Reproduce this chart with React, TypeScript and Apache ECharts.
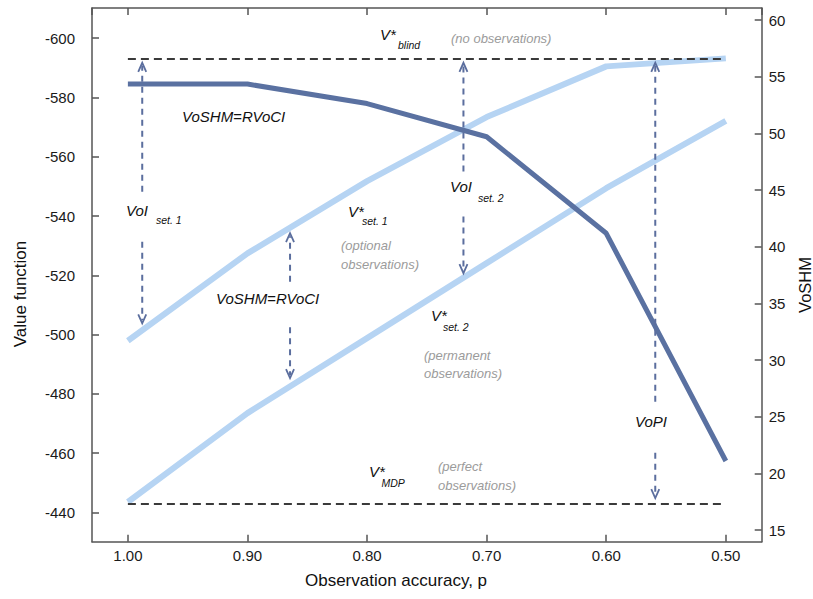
import React, { useEffect, useRef } from "react";
import * as echarts from "echarts";

// ---- data ----
const ACCURACY = [1.0, 0.9, 0.8, 0.7, 0.6, 0.5];
const V_SET1 = [-497.9, -527.4, -551.8, -573.4, -590.5, -593.2];
const V_SET2 = [-443.5, -473.5, -498.8, -524.1, -549.4, -572.1];
const VOSHM = [54.35, 54.35, 52.63, 49.7, 41.18, 21.09];
const V_BLIND = -593.0;
const V_MDP = -442.8;
// arrows: [accuracy, tail value, tip value] (left axis)
const ARROWS = [
  [0.988, -548.2, -591.7],
  [0.988, -531.3, -503.8],
  [0.7194, -555.0, -591.7],
  [0.7194, -539.8, -520.7],
  [0.8644, -517.8, -534.2],
  [0.8644, -502.5, -485.3],
  [0.559, -477.3, -591.7],
  [0.559, -460.1, -444.8],
];

const FONT = '"Liberation Sans", Arial, Helvetica, sans-serif';
const DARK = "#5a71a1";
const LIGHT = "#b6d4f3";
const ARROW_C = "#5b6e9e";
const GRAY = "#9b9b9b";

type Ann = { t: string; x: number; y: number; size: number; color?: string };
const ANNOTATIONS: Ann[] = [
  { t: "V*", x: 380, y: 34, size: 15 },
  { t: "blind", x: 398, y: 44.5, size: 10.5 },
  { t: "(no observations)", x: 451, y: 38, size: 13, color: GRAY },
  { t: "VoSHM=RVoCI", x: 182, y: 116, size: 15 },
  { t: "VoI", x: 126, y: 210, size: 15 },
  { t: "set. 1", x: 156, y: 219.5, size: 10.5 },
  { t: "V*", x: 348, y: 211.5, size: 15 },
  { t: "set. 1", x: 362, y: 220.5, size: 10.5 },
  { t: "(optional", x: 341, y: 245, size: 13, color: GRAY },
  { t: "observations)", x: 341, y: 264, size: 13, color: GRAY },
  { t: "VoSHM=RVoCI", x: 216, y: 298, size: 15 },
  { t: "VoI", x: 450, y: 186, size: 15 },
  { t: "set. 2", x: 478, y: 197.5, size: 10.5 },
  { t: "V*", x: 431, y: 315, size: 15 },
  { t: "set. 2", x: 443, y: 326.5, size: 10.5 },
  { t: "(permanent", x: 424, y: 355, size: 13, color: GRAY },
  { t: "observations)", x: 424, y: 373.5, size: 13, color: GRAY },
  { t: "VoPI", x: 635, y: 421.5, size: 15 },
  { t: "V*", x: 369, y: 471, size: 15 },
  { t: "MDP", x: 381.5, y: 483, size: 10.5 },
  { t: "(perfect", x: 438, y: 466, size: 13, color: GRAY },
  { t: "observations)", x: 438, y: 485.5, size: 13, color: GRAY },
];

const pairs = (ys: number[]) => ACCURACY.map((x, i) => [x, ys[i]]);

const axisLineStyle = { color: "#555", width: 1.5 };

export default function App() {
  const ref = useRef<HTMLDivElement>(null);
  useEffect(() => {
    if (!ref.current) return;
    const chart = echarts.init(ref.current, undefined, { renderer: "svg" });

    const xCommon: any = {
      type: "value",
      min: 0.47,
      max: 1.03,
      inverse: true,
      minInterval: 0.1,
      maxInterval: 0.1,
      splitLine: { show: false },
      axisLine: { show: true, lineStyle: axisLineStyle },
      axisTick: { show: true, inside: true, length: 7, lineStyle: axisLineStyle },
    };

    const labelStyle = { fontFamily: FONT, fontSize: 15, color: "#1a1a1a" };

    const option: any = {
      animation: false,
      backgroundColor: "#ffffff",
      grid: {
        left: 92,
        right: 51.3,
        top: 8,
        bottom: 57.3,
        containLabel: false,
        outerBoundsMode: "none",
      },
      xAxis: [
        {
          ...xCommon,
          position: "bottom",
          axisLabel: {
            ...labelStyle,
            margin: 6,
            showMinLabel: false,
            showMaxLabel: false,
            formatter: (v: number) => v.toFixed(2),
          },
        },
        {
          ...xCommon,
          position: "top",
          axisLabel: { show: false },
        },
      ],
      yAxis: [
        {
          type: "value",
          position: "left",
          min: -610.2,
          max: -430.1,
          inverse: true,
          minInterval: 20,
          maxInterval: 20,
          splitLine: { show: false },
          axisLine: { show: true, lineStyle: axisLineStyle },
          axisTick: { show: true, inside: true, length: 7, lineStyle: axisLineStyle },
          axisLabel: {
            ...labelStyle,
            margin: 17,
            showMinLabel: false,
            showMaxLabel: false,
            padding: [0, 0, 7, 0],
          },
        },
        {
          type: "value",
          position: "right",
          min: 13.97,
          max: 61.06,
          minInterval: 5,
          maxInterval: 5,
          splitLine: { show: false },
          axisLine: { show: true, lineStyle: axisLineStyle },
          axisTick: { show: true, inside: true, length: 7, lineStyle: axisLineStyle },
          axisLabel: {
            ...labelStyle,
            margin: 7,
            showMinLabel: false,
            showMaxLabel: false,
            padding: [0, 0, 8, 0],
          },
        },
      ],
      series: [
        {
          name: "V* set. 1",
          type: "line",
          xAxisIndex: 0,
          yAxisIndex: 0,
          data: pairs(V_SET1),
          symbol: "none",
          lineStyle: { color: LIGHT, width: 6 },
          z: 2,
        },
        {
          name: "V* set. 2",
          type: "line",
          xAxisIndex: 0,
          yAxisIndex: 0,
          data: pairs(V_SET2),
          symbol: "none",
          lineStyle: { color: LIGHT, width: 6 },
          z: 2,
        },
        {
          name: "V* blind",
          type: "line",
          xAxisIndex: 0,
          yAxisIndex: 0,
          data: [
            [ACCURACY[0], V_BLIND],
            [ACCURACY[ACCURACY.length - 1], V_BLIND],
          ],
          symbol: "none",
          lineStyle: { color: "#3a3a3a", width: 2, type: [8, 5] },
          z: 3,
        },
        {
          name: "V* MDP",
          type: "line",
          xAxisIndex: 0,
          yAxisIndex: 0,
          data: [
            [ACCURACY[0], V_MDP],
            [ACCURACY[ACCURACY.length - 1], V_MDP],
          ],
          symbol: "none",
          lineStyle: { color: "#3a3a3a", width: 2, type: [8, 5] },
          z: 3,
        },
        {
          name: "VoSHM",
          type: "line",
          xAxisIndex: 0,
          yAxisIndex: 1,
          data: pairs(VOSHM),
          symbol: "none",
          lineStyle: { color: DARK, width: 5 },
          z: 4,
        },
        {
          name: "arrows",
          type: "custom",
          coordinateSystem: "cartesian2d",
          xAxisIndex: 0,
          yAxisIndex: 0,
          clip: false,
          z: 5,
          encode: { x: 0, y: [1, 2] },
          data: ARROWS,
          renderItem: (params: any, api: any) => {
            const x = api.value(0);
            const tail = api.coord([x, api.value(1)]);
            const tip = api.coord([x, api.value(2)]);
            const dir = tip[1] < tail[1] ? -1 : 1;
            const h = 9;
            const w = 4;
            return {
              type: "group",
              children: [
                {
                  type: "line",
                  shape: { x1: tail[0], y1: tail[1], x2: tip[0], y2: tip[1] - dir * 3 },
                  style: { stroke: ARROW_C, lineWidth: 2, lineDash: [6, 5] },
                },
                {
                  type: "polyline",
                  shape: {
                    points: [
                      [tip[0] - w, tip[1] - dir * h],
                      [tip[0], tip[1]],
                      [tip[0] + w, tip[1] - dir * h],
                    ],
                  },
                  style: { stroke: ARROW_C, fill: "none", lineWidth: 1.8 },
                },
              ],
            };
          },
        },
      ],
      graphic: [
        ...ANNOTATIONS.map((a) => ({
          type: "text",
          x: a.x,
          y: a.y,
          z: 10,
          style: {
            text: a.t,
            font: `italic ${a.size}px ${FONT}`,
            fill: a.color || "#111",
            align: "left",
            verticalAlign: "middle",
            textAlign: "left",
            textVerticalAlign: "middle",
          },
        })),
        {
          type: "text",
          x: 20,
          y: 294,
          rotation: Math.PI / 2,
          style: {
            text: "Value function",
            font: `17px ${FONT}`,
            fill: "#111",
            align: "center",
            verticalAlign: "middle",
            textAlign: "center",
            textVerticalAlign: "middle",
          },
        },
        {
          type: "text",
          x: 804.5,
          y: 285,
          rotation: Math.PI / 2,
          style: {
            text: "VoSHM",
            font: `16.5px ${FONT}`,
            lineHeight: 14,
            fill: "#111",
            align: "center",
            verticalAlign: "middle",
            textAlign: "center",
            textVerticalAlign: "middle",
          },
        },
        {
          type: "text",
          x: 396,
          y: 580,
          style: {
            text: "Observation accuracy, p",
            font: `17px ${FONT}`,
            fill: "#111",
            align: "center",
            verticalAlign: "middle",
            textAlign: "center",
            textVerticalAlign: "middle",
          },
        },
      ],
    };

    chart.setOption(option);
    return () => chart.dispose();
  }, []);

  return (
    <div
      ref={ref}
      style={{ position: "fixed", left: 0, top: 0, width: 813, height: 599, background: "#fff" }}
    />
  );
}
